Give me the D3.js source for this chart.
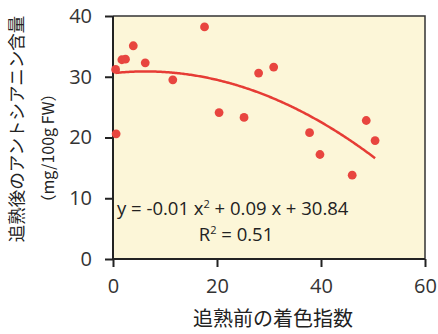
<!DOCTYPE html>
<html><head><meta charset="utf-8">
<script src="https://cdn.jsdelivr.net/npm/d3@7"></script>
<style>html,body{margin:0;padding:0;background:#fff;}svg{display:block;}</style>
</head><body>
<svg id="c" width="438" height="334"></svg>
<script>
const colorIndex = [0.5,0.6,1.7,2.4,3.9,6.2,11.5,17.6,20.4,25.2,28.0,30.9,37.8,39.8,46.0,48.7,50.4];
const anthocyanin = [31.2,20.6,32.8,32.9,35.1,32.3,29.5,38.2,24.1,23.3,30.6,31.6,20.8,17.2,13.8,22.8,19.5];
const xTicks = [0,20,40,60];
const yTicks = [0,10,20,30,40];
const xTitle = "追熟前の着色指数";
const yTitle1 = "追熟後のアントシアニン含量";
const yTitle2 = "（mg/100g FW）";
const eqText = ["y = -0.01 x", "2", " + 0.09 x + 30.84"];
const r2Text = ["R", "2", " = 0.51"];

const svg = d3.select("#c");
const L = 113, R = 425, T = 16, B = 259;
const x = d3.scaleLinear().domain([0,60]).range([L,R]);
const y = d3.scaleLinear().domain([0,40]).range([B,T]);

svg.append("rect").attr("x",L).attr("y",T).attr("width",R-L).attr("height",B-T).attr("fill","#fcf6d8");
svg.append("path").attr("d",`M${L},${T}H${R}V${B}`).attr("fill","none").attr("stroke","#333").attr("stroke-width",1.5);

const font = "'Open Sans','Liberation Sans',sans-serif";
const jp = "'Noto Sans CJK JP',sans-serif";

const yAxis = svg.append("g").attr("transform",`translate(${L},0)`)
  .call(d3.axisLeft(y).tickValues(yTicks).tickSize(8).tickPadding(13).tickFormat(d3.format("d")));
const xAxis = svg.append("g").attr("transform",`translate(0,${B})`)
  .call(d3.axisBottom(x).tickValues(xTicks).tickSize(8).tickPadding(12).tickFormat(d3.format("d")));
[yAxis,xAxis].forEach(g=>{
  g.select(".domain").attr("stroke","#222").attr("stroke-width",2);
  g.selectAll(".tick line").attr("stroke","#222").attr("stroke-width",2);
  g.selectAll("text").attr("font-family",font).attr("font-size",20).attr("fill","#333");
});
xAxis.select(".domain").attr("d",`M${L},0H${R}`);
yAxis.select(".domain").attr("d",`M0,${y(0)}V${y(40)}`);

function fit(xs, ys){
  const n=xs.length; let S=[0,0,0,0,0], Ty=[0,0,0];
  for(let i=0;i<n;i++){let p=1;for(let k=0;k<5;k++){S[k]+=p;if(k<3)Ty[k]+=p*ys[i];p*=xs[i];}}
  const A=[[S[0],S[1],S[2],Ty[0]],[S[1],S[2],S[3],Ty[1]],[S[2],S[3],S[4],Ty[2]]];
  for(let i=0;i<3;i++){for(let j=i+1;j<3;j++){const f=A[j][i]/A[i][i];for(let k=i;k<4;k++)A[j][k]-=f*A[i][k];}}
  const c=[0,0,0];
  for(let i=2;i>=0;i--){let s=A[i][3];for(let k=i+1;k<3;k++)s-=A[i][k]*c[k];c[i]=s/A[i][i];}
  return c;
}
const c = fit(colorIndex, anthocyanin);
const xs = d3.range(0,201).map(i=>d3.min(colorIndex)+(d3.max(colorIndex)-d3.min(colorIndex))*i/200);
svg.append("path").datum(xs)
  .attr("d", d3.line().x(d=>x(d)).y(d=>y(c[0]+c[1]*d+c[2]*d*d)))
  .attr("fill","none").attr("stroke","#e63c35").attr("stroke-width",2.5);

svg.append("g").selectAll("circle").data(colorIndex).join("circle")
  .attr("cx",d=>x(d)).attr("cy",(d,i)=>y(anthocyanin[i])).attr("r",4.4)
  .attr("fill","#e8453f");

function supText(px,py,parts,anchor){
  const t = svg.append("text").attr("x",px).attr("y",py).attr("font-family",font).attr("font-size",18.5).attr("fill","#222").attr("text-anchor",anchor);
  t.append("tspan").text(parts[0]);
  t.append("tspan").attr("dy",-7).attr("font-size",11).text(parts[1]);
  t.append("tspan").attr("dy",7).text(parts[2]);
}
supText(117,215,eqText,"start");
supText(236,241,r2Text,"middle");

svg.append("text").attr("x",273).attr("y",326).attr("text-anchor","middle")
  .attr("font-family",jp).attr("font-size",20).attr("fill","#222").text(xTitle);
svg.append("text").attr("transform","translate(23,129) rotate(-90)").attr("text-anchor","middle")
  .attr("font-family",jp).attr("font-size",17.5).attr("fill","#222").text(yTitle1);
svg.append("text").attr("transform","translate(54,148) rotate(-90)").attr("text-anchor","middle")
  .attr("font-family",jp).attr("font-size",16).attr("fill","#222").text(yTitle2);
</script>
</body></html>
